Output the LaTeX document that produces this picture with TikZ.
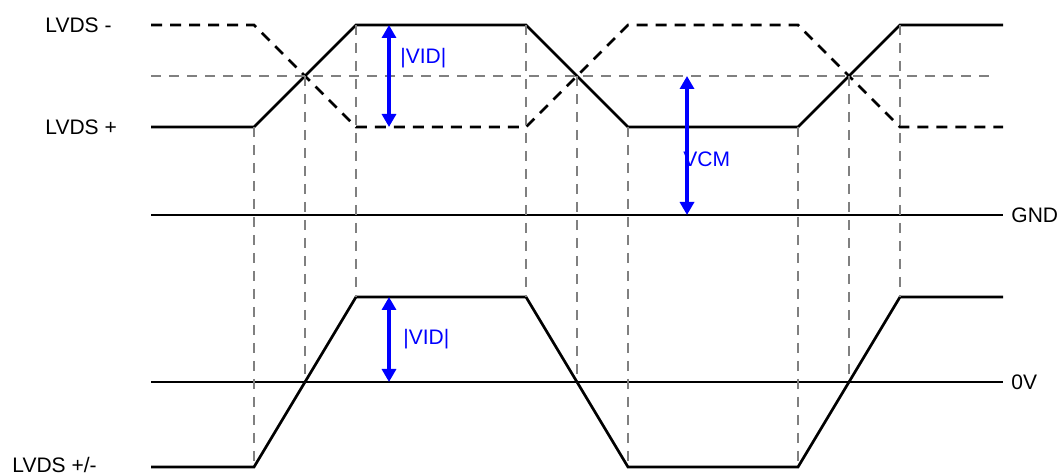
\documentclass[tikz,border=0pt]{standalone}
\usepackage{fontspec}
\setmainfont{Liberation Sans}
\usetikzlibrary{arrows.meta}

\begin{document}
\begin{tikzpicture}[
    x=0.5pt, y=-0.5pt,
    sig/.style={line width=1.35pt, line join=miter},
    sigdash/.style={sig, dash pattern=on 5.5pt off 4pt},
    guide/.style={line width=1.1pt, draw=gray, dash pattern=on 5pt off 4pt},
    meas/.style={{Triangle[width=7pt,length=6.5pt]}-{Triangle[width=7pt,length=6.5pt]}, line width=1.6pt, draw=blue},
    lbl/.style={anchor=west, inner sep=0pt, font=\fontsize{10.5}{12}\selectfont},
    vlbl/.style={lbl, text=blue}
]
    \useasboundingbox (0,0) rectangle (1063,474);

    % Signal labels
    \node[lbl] (lvdsm) at (45,25) {LVDS -};
    \node[lbl] (lvdsp) at (45,127) {LVDS +};
    \node[lbl] (lvdsd) at (12,465) {LVDS +/-};
    \node[lbl] (gnd) at (1011,215) {GND};
    \node[lbl] (zero) at (1011,382) {0V};

    % Reference rails
    \draw[sig] (151,215) -- (1003,215);
    \draw[sig] (151,382) -- (1003,382);

    % LVDS + (solid) and LVDS - (dashed)
    \draw[sig] (151,127) -- (254,127) -- (356,25) -- (526,25) -- (628,127)
        -- (798,127) -- (900,25) -- (1003,25);
    \draw[sigdash] (151,25) -- (254,25) -- (356,127) -- (526,127) -- (628,25)
        -- (798,25) -- (900,127) -- (1003,127);

    % Differential signal
    \draw[sig] (151,467) -- (254,467) -- (356,297) -- (526,297) -- (628,467)
        -- (798,467) -- (900,297) -- (1003,297);

    % Timing guides
    \draw[guide] (151,76) -- (995,76);
    \foreach \x/\ya/\yb in {254/127/467, 305/76/382, 356/25/297,
                            526/25/297, 577/76/382, 628/127/467,
                            798/127/467, 849/76/382, 900/25/297}
        \draw[guide] (\x,\ya) -- (\x,\yb);

    % Measurements
    \coordinate (vidtopH) at (389,25);
    \coordinate (vidtopL) at (389,127);
    \coordinate (vcmH) at (687,76);
    \coordinate (vcmL) at (687,215);
    \coordinate (vidbotH) at (389,297);
    \coordinate (vidbotL) at (389,382);

    \draw[meas] (vidtopH) -- (vidtopL);
    \draw[meas] (vcmH) -- (vcmL);
    \draw[meas] (vidbotH) -- (vidbotL);

    \node[vlbl] (vidtop) at (400,58) {|VID|};
    \node[vlbl] (vcm) at (683,159) {VCM};
    \node[vlbl] (vidbot) at (403,339) {|VID|};
\end{tikzpicture}
\end{document}
